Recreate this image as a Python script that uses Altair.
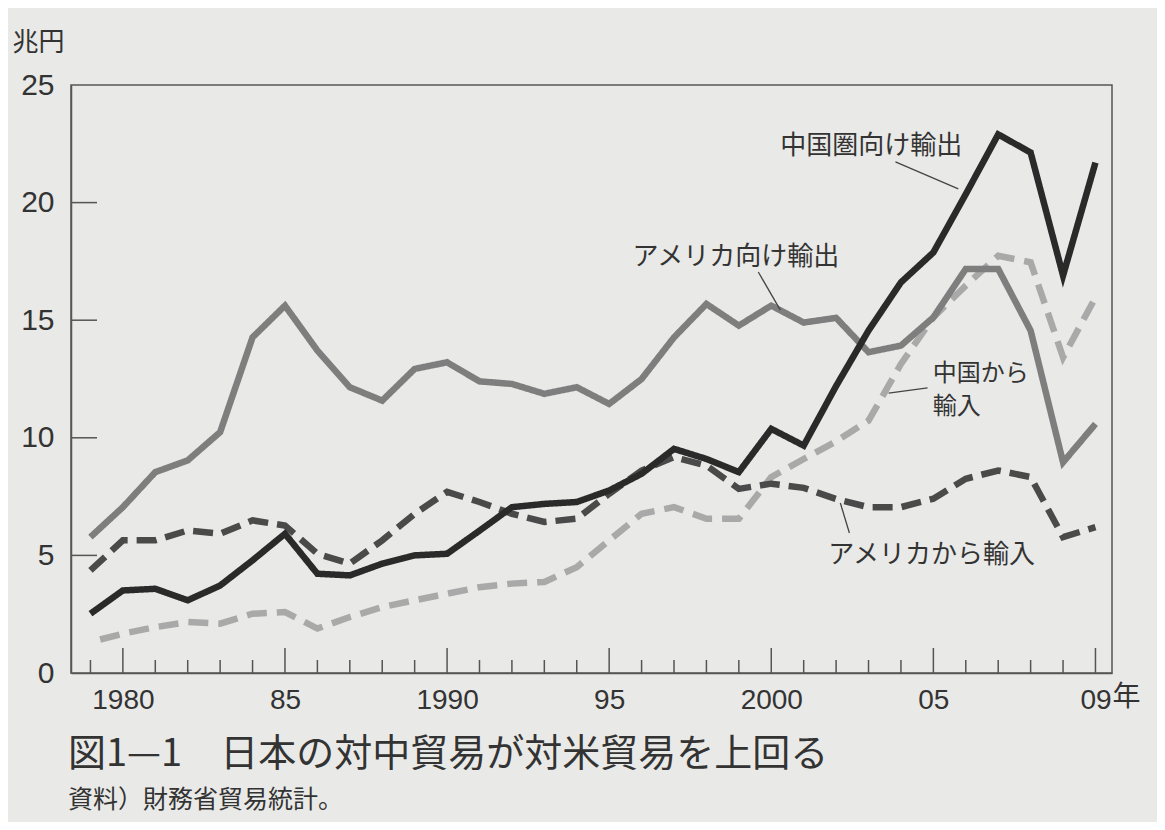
import altair as alt
import pandas as pd

# ---------------- data ----------------
YEARS = list(range(1979, 2011))

CHINA_EXPORTS = [2.52, 3.51, 3.58, 3.09, 3.72, 4.79, 5.92, 4.22, 4.15, 4.65, 5.00,
                 5.07, 6.05, 7.05, 7.19, 7.27, 7.76, 8.47, 9.53, 9.10, 8.54, 10.38,
                 9.67, 12.20, 14.56, 16.61, 17.88, 20.36, 22.90, 22.13, 16.90, 21.70]
US_EXPORTS = [5.78, 7.05, 8.54, 9.04, 10.24, 14.27, 15.62, 13.71, 12.15, 11.58, 12.93,
              13.21, 12.40, 12.29, 11.87, 12.15, 11.44, 12.50, 14.27, 15.69, 14.77, 15.62,
              14.90, 15.10, 13.64, 13.92, 15.12, 17.18, 17.18, 14.56, 8.96, 10.59]
US_IMPORTS = [4.36, 5.64, 5.64, 6.06, 5.92, 6.49, 6.27, 5.07, 4.65, 5.64, 6.77,
              7.70, 7.27, 6.77, 6.42, 6.56, 7.62, 8.61, 9.18, 8.82, 7.83, 8.05,
              7.87, 7.40, 7.05, 7.05, 7.41, 8.26, 8.61, 8.33, 5.78, 6.20]
CHINA_IMPORTS = [1.32, 1.67, 1.95, 2.17, 2.10, 2.52, 2.59, 1.89, 2.38, 2.80, 3.09,
                 3.37, 3.65, 3.80, 3.87, 4.50, 5.64, 6.77, 7.05, 6.56, 6.56, 8.33,
                 9.10, 9.85, 10.73, 13.14, 15.12, 16.47, 17.74, 17.46, 13.42, 15.97]

SERIES = ["中国から輸入", "アメリカから輸入", "アメリカ向け輸出", "中国圏向け輸出"]
SERIES_VALUES = [CHINA_IMPORTS, US_IMPORTS, US_EXPORTS, CHINA_EXPORTS]
SERIES_COLORS = ["#a9a9a9", "#4a4a4a", "#7e7e7e", "#2a2a2a"]
SERIES_DASH = [[20, 10], [20, 9], [1, 0], [1, 0]]
SERIES_DASH_OFFSET = [20, 0, 0, 0]

XTICK_VALUES = [1980, 1985, 1990, 1995, 2000, 2005, 2010]
XTICK_LABELS = ["1980", "85", "1990", "95", "2000", "05", "09"]
YTICK_VALUES = [0, 5, 10, 15, 20, 25]
YTICK_MARKS = [5, 10, 15, 20]

ANNOT_TEXT = ["中国圏向け輸出", "アメリカ向け輸出", "アメリカから輸入"]
ANNOT_X = [2000.28, 1995.72, 2001.76]
ANNOT_Y = [22.41, 17.69, 5.02]
ANNOT2_TEXT = ["中国から", "輸入"]
ANNOT2_X = [2004.98, 2004.98]
ANNOT2_Y = [12.70, 11.32]

LEADER_X1 = [2003.83, 1999.60, 2003.62, 2002.13]
LEADER_Y1 = [21.73, 17.05, 11.90, 7.23]
LEADER_X2 = [2005.77, 2000.28, 2004.82, 2002.41]
LEADER_Y2 = [20.58, 15.43, 12.12, 5.95]

TITLE = "図1—1　日本の対中貿易が対米貿易を上回る"
SUBTITLE = "資料）財務省貿易統計。"

# ---------------- layout ----------------
W, H = 1041, 588
INK = "#333333"
AXIS = "#555555"
JP = "Noto Sans CJK JP"
NUM = "Liberation Sans"

x_scale = alt.Scale(domain=[1978.4, 2010.51], nice=False, zero=False)
y_scale = alt.Scale(domain=[0, 25], nice=False, zero=True)

label_expr = " : ".join(
    f"datum.value == {v} ? '{t}'" for v, t in zip(XTICK_VALUES, XTICK_LABELS)
) + " : ''"

x_axis = alt.Axis(values=XTICK_VALUES, labelExpr=label_expr, ticks=False, grid=False,
                  title=None, labelFont=NUM, labelFontSize=28, labelColor=INK,
                  labelPadding=13, domainColor=AXIS, domainWidth=1.5, labelFlush=False)
y_axis = alt.Axis(values=YTICK_VALUES, ticks=False, grid=False, title="兆円",
                  titleAngle=0, titleX=-59, titleY=-43, titleAlign="left",
                  titleBaseline="middle", titleFont=JP, titleFontSize=26,
                  titleFontWeight="normal", titleColor=INK,
                  labelFont=NUM, labelFontSize=30, labelColor=INK, labelPadding=17,
                  domainColor=AXIS, domainWidth=1.5)

X = alt.X("year:Q", scale=x_scale, axis=x_axis)

layers = []
for name, vals, col, dash, off in zip(SERIES, SERIES_VALUES, SERIES_COLORS,
                                      SERIES_DASH, SERIES_DASH_OFFSET):
    d = pd.DataFrame({"year": YEARS, "value": vals})
    layers.append(
        alt.Chart(d).mark_line(color=col, strokeWidth=6.5, strokeDash=dash,
                               strokeDashOffset=off, strokeCap="butt",
                               strokeJoin="miter").encode(
            x=X, y=alt.Y("value:Q", scale=y_scale, axis=y_axis)
        )
    )

tick_df = pd.DataFrame({"year": YEARS})
minor = alt.Chart(tick_df).transform_filter("datum.year % 5 != 0").mark_rule(
    color=AXIS, strokeWidth=1.5).encode(x=X, y=alt.value(H), y2=alt.value(H - 13))
major = alt.Chart(tick_df).transform_filter("datum.year % 5 == 0").mark_rule(
    color=AXIS, strokeWidth=1.5).encode(x=X, y=alt.value(H), y2=alt.value(H - 25))

ytick_df = pd.DataFrame({"v": YTICK_MARKS})
yticks = alt.Chart(ytick_df).mark_rule(color=AXIS, strokeWidth=1.5).encode(
    y=alt.Y("v:Q", scale=y_scale, axis=y_axis), x=alt.value(0), x2=alt.value(26))

nen = alt.Chart(pd.DataFrame({"year": [XTICK_VALUES[-1]], "t": ["年"]})).mark_text(
    font=JP, fontSize=28, color=INK, align="left", baseline="middle", dx=17
).encode(x=X, y=alt.value(H + 25), text="t:N")

annot_df = pd.DataFrame({"x": ANNOT_X, "y": ANNOT_Y, "t": ANNOT_TEXT})
annots = alt.Chart(annot_df).mark_text(
    font=JP, fontSize=26, color=INK, align="left", baseline="middle"
).encode(x=alt.X("x:Q", scale=x_scale, axis=x_axis),
         y=alt.Y("y:Q", scale=y_scale, axis=y_axis), text="t:N")

annot2_df = pd.DataFrame({"x": ANNOT2_X, "y": ANNOT2_Y, "t": ANNOT2_TEXT})
annots2 = alt.Chart(annot2_df).mark_text(
    font=JP, fontSize=24, color=INK, align="left", baseline="middle"
).encode(x=alt.X("x:Q", scale=x_scale, axis=x_axis),
         y=alt.Y("y:Q", scale=y_scale, axis=y_axis), text="t:N")

lead_df = pd.DataFrame({"x1": LEADER_X1, "y1": LEADER_Y1, "x2": LEADER_X2, "y2": LEADER_Y2})
leaders = alt.Chart(lead_df).mark_rule(color="#444444", strokeWidth=1.3).encode(
    x=alt.X("x1:Q", scale=x_scale, axis=x_axis), x2="x2:Q",
    y=alt.Y("y1:Q", scale=y_scale, axis=y_axis), y2="y2:Q")

chart = alt.layer(*layers, minor, major, yticks, leaders, annots, annots2, nen).properties(
    width=W, height=H,
    padding={"left": 63, "top": 77, "right": 45, "bottom": 149},
    autosize=alt.AutoSizeParams(type="none"),
    background="#e9e9e7",
    title=alt.TitleParams(
        text=TITLE, subtitle=SUBTITLE, orient="bottom", anchor="start", frame="group",
        dx=-3, offset=22, font=JP, fontSize=38, fontWeight="normal", color=INK,
        subtitleFont=JP, subtitleFontSize=25, subtitleColor=INK, subtitlePadding=14,
    ),
).configure_view(stroke=AXIS, strokeWidth=1.5)

chart.save("out.html", embed_options={"renderer": "svg", "actions": False})
